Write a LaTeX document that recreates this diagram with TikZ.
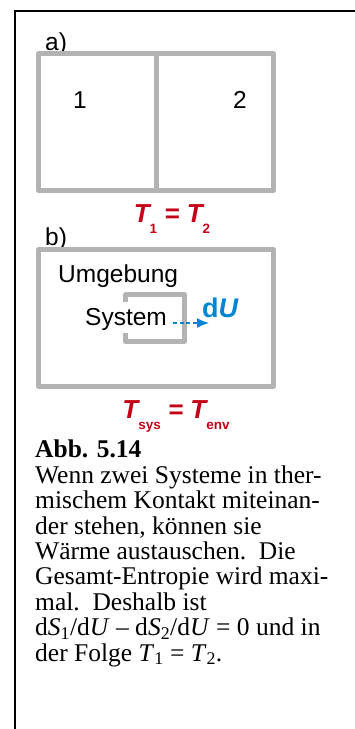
\documentclass[tikz,border=0pt]{standalone}
\usepackage{fontspec}
\setmainfont{Liberation Serif}
\newfontfamily\labelfont{Liberation Sans}
\usetikzlibrary{arrows.meta}
\definecolor{wallgray}{RGB}{179,179,179}
\definecolor{tempred}{RGB}{196,0,22}
\definecolor{flowblue}{RGB}{0,132,212}
\newcommand{\dropsub}[1]{\raisebox{-11pt}{\upshape\fontsize{13.5}{13.5}\selectfont #1}}

\begin{document}
\begin{tikzpicture}[x=1pt,y=-1pt,>=Latex,
  wall/.style={wallgray,line width=5pt,line join=round},
  lbl/.style={font=\labelfont\fontsize{24.5}{24.5}\selectfont,inner sep=0pt},
  temp/.style={tempred,font=\labelfont\bfseries\itshape\fontsize{26}{26}\selectfont,inner sep=0pt}]
  \useasboundingbox (0,0) rectangle (355,729);
  % frame
  \draw[line width=1.5pt] (15,729) -- (15,11) -- (355,11);

  % a) two systems in contact
  \node[lbl,anchor=base west] (labA) at (45,50) {a)};
  \draw[wall] (38.5,53.5) rectangle (273.5,190.5);
  \draw[wall] (156,53.5) -- (156,190.5);
  \node[lbl,anchor=base] (sysone) at (80,108) {1};
  \node[lbl,anchor=base] (systwo) at (240,108) {2};
  \node[temp,anchor=base] (eqA) at (172,222)
    {T\dropsub{1} = T\dropsub{2}};

  % b) system and surroundings
  \node[lbl,anchor=base west] (labB) at (45,245) {b)};
  \draw[wall] (38.5,249.5) rectangle (273.5,386.5);
  \draw[wall] (125.5,302) -- (125.5,294.5) -- (184.5,294.5)
    -- (184.5,341.5) -- (125.5,341.5) -- (125.5,333);
  \node[lbl,anchor=base west] (env) at (58,282) {Umgebung};
  \node[lbl,anchor=base west] (sys) at (85,325) {System};
  \coordinate (flowA) at (173,323);
  \coordinate (flowB) at (209,323);
  \draw[flowblue,line width=1.5pt,dash pattern=on 4pt off 2.5pt,
    -{Latex[length=12pt,width=10pt]}] (flowA) -- (flowB);
  \node[flowblue,font=\labelfont\bfseries\fontsize{27}{27}\selectfont,
    inner sep=0pt,anchor=base west] (dU) at (202,317) {d\textit{U}};
  \node[temp,anchor=base] (eqB) at (176,418)
    {T\dropsub{sys} = T\dropsub{env}};

  % caption
  \node[anchor=north west,align=left,inner sep=0pt,
    font=\fontsize{25.5}{25.4}\selectfont] (caption) at (35,440)
    {\textbf{Abb. 5.14}\\
     Wenn zwei Systeme in ther-\\
     mischem Kontakt miteinan-\\
     der stehen, können sie\\
     Wärme austauschen.\ \ Die\\
     Gesamt-Entropie wird maxi-\\
     mal.\ \ Deshalb ist\\
     d\textit{S}\textsubscript{1}/d\textit{U} – d\textit{S}\textsubscript{2}/d\textit{U} = 0 und in\\
     der Folge \textit{T}\textsubscript{1} = \textit{T}\textsubscript{2}.};
\end{tikzpicture}
\end{document}
